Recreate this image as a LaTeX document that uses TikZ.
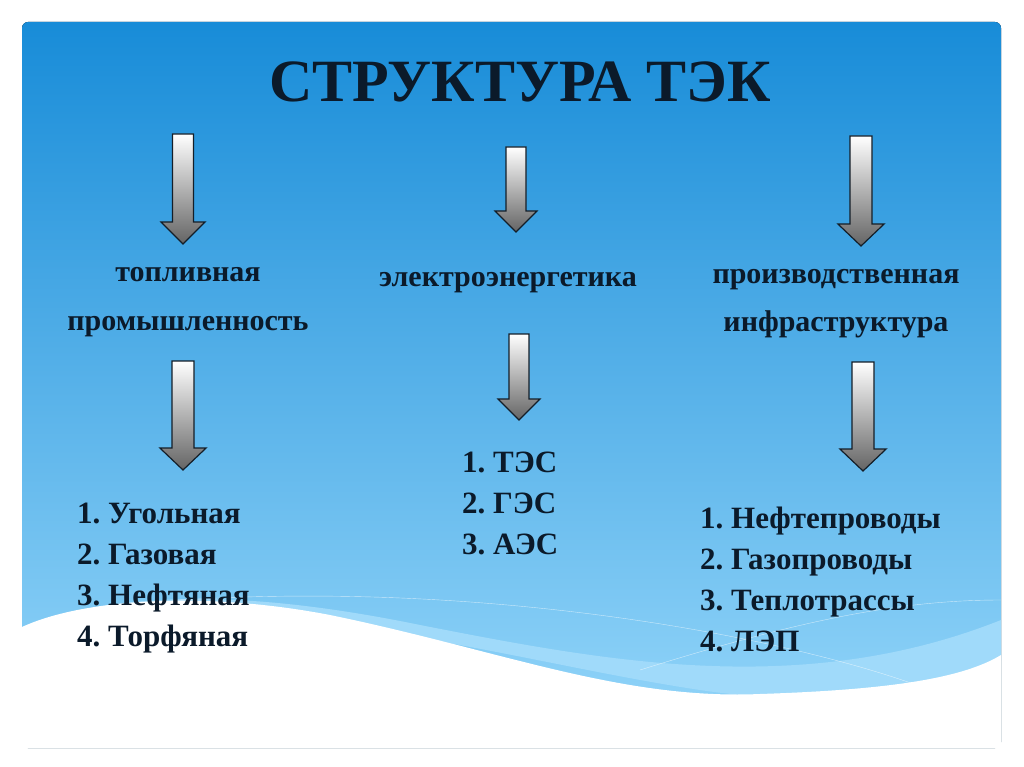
\documentclass[tikz,border=0pt]{standalone}
\usepackage{fontspec}
\setmainfont{Liberation Serif}
\definecolor{txt}{HTML}{0B1A2A}
\definecolor{bgtop}{RGB}{24,140,216}
\definecolor{bgbot}{RGB}{150,215,250}
\definecolor{band}{RGB}{160,218,250}
\definecolor{arrline}{RGB}{20,30,40}
\definecolor{arrbot}{RGB}{100,100,100}
\begin{document}
\begin{tikzpicture}[x=1pt,y=-1pt,
  lbl/.style={font=\bfseries\fontsize{30}{34}\selectfont,text=txt},
  lst/.style={font=\bfseries\fontsize{31}{41}\selectfont,text=txt,align=left,anchor=north west,inner sep=0}]
\useasboundingbox (0,0) rectangle (1024,767);
\fill[white] (0,0) rectangle (1024,767);
\fill[top color=bgtop, bottom color=bgbot,rounded corners=6] (22,22) rectangle (1001,748);
% light band
\fill[band] (22,627) .. controls (120,590) and (250,590) .. (420,625) .. controls (600,660) and (800,700) .. (1001,620) -- (1001,660) .. controls (900,700) and (800,705) .. (700,690) .. controls (500,660) and (300,590) .. (22,627) -- cycle;
\draw[white,opacity=0.6] (180,600) .. controls (500,580) and (800,640) .. (930,690);
\draw[white,opacity=0.6] (640,670) .. controls (800,620) and (900,600) .. (1001,600);
\fill[white] (22,627) .. controls (80,600) and (200,590) .. (330,615) .. controls (500,650) and (620,700) .. (760,694) .. controls (880,690) and (960,680) .. (1001,655) -- (1001,748) -- (22,748) -- cycle;
\node[font=\bfseries\fontsize{60}{64}\selectfont,text=txt] (title) at (520,82) {СТРУКТУРА ТЭК};
\tikzset{
  barrow/.style={draw=arrline,line width=1.2pt,
    top color=white,bottom color=arrbot}}
\newcommand{\barr}[5]{% cx, top, headbase, tip, halfshaft
  \path[barrow] (#1-#5,#2) -- (#1+#5,#2) -- (#1+#5,#3) -- (#1+2.1*#5,#3) -- (#1,#4) -- (#1-2.1*#5,#3) -- (#1-#5,#3) -- cycle;}
\barr{183}{134}{222}{244}{10.5}
\barr{516}{147}{211}{232}{10}
\barr{861}{136}{224}{246}{11}
\barr{183}{361}{448}{470}{11}
\barr{519}{334}{399}{420}{10}
\barr{863}{362}{449}{471}{11}
\node[lbl] (a1) at (188,275) {топливная};
\node[lbl] (a2) at (188,327) {промышленность};
\node[lbl] (b1) at (508,283) {электроэнергетика};
\node[lbl] (c1) at (836,280) {производственная};
\node[lbl] (c2) at (836,324) {инфраструктура};
\node[lst] (l1) at (77,503) {1.~Угольная\\2.~Газовая\\3.~Нефтяная\\4.~Торфяная};
\node[lst] (l2) at (462,452) {1.~ТЭС\\2.~ГЭС\\3.~АЭС};
\node[lst] (l3) at (700,507) {1.~Нефтепроводы\\2.~Газопроводы\\3.~Теплотрассы\\4.~ЛЭП};
\end{tikzpicture}
\end{document}
